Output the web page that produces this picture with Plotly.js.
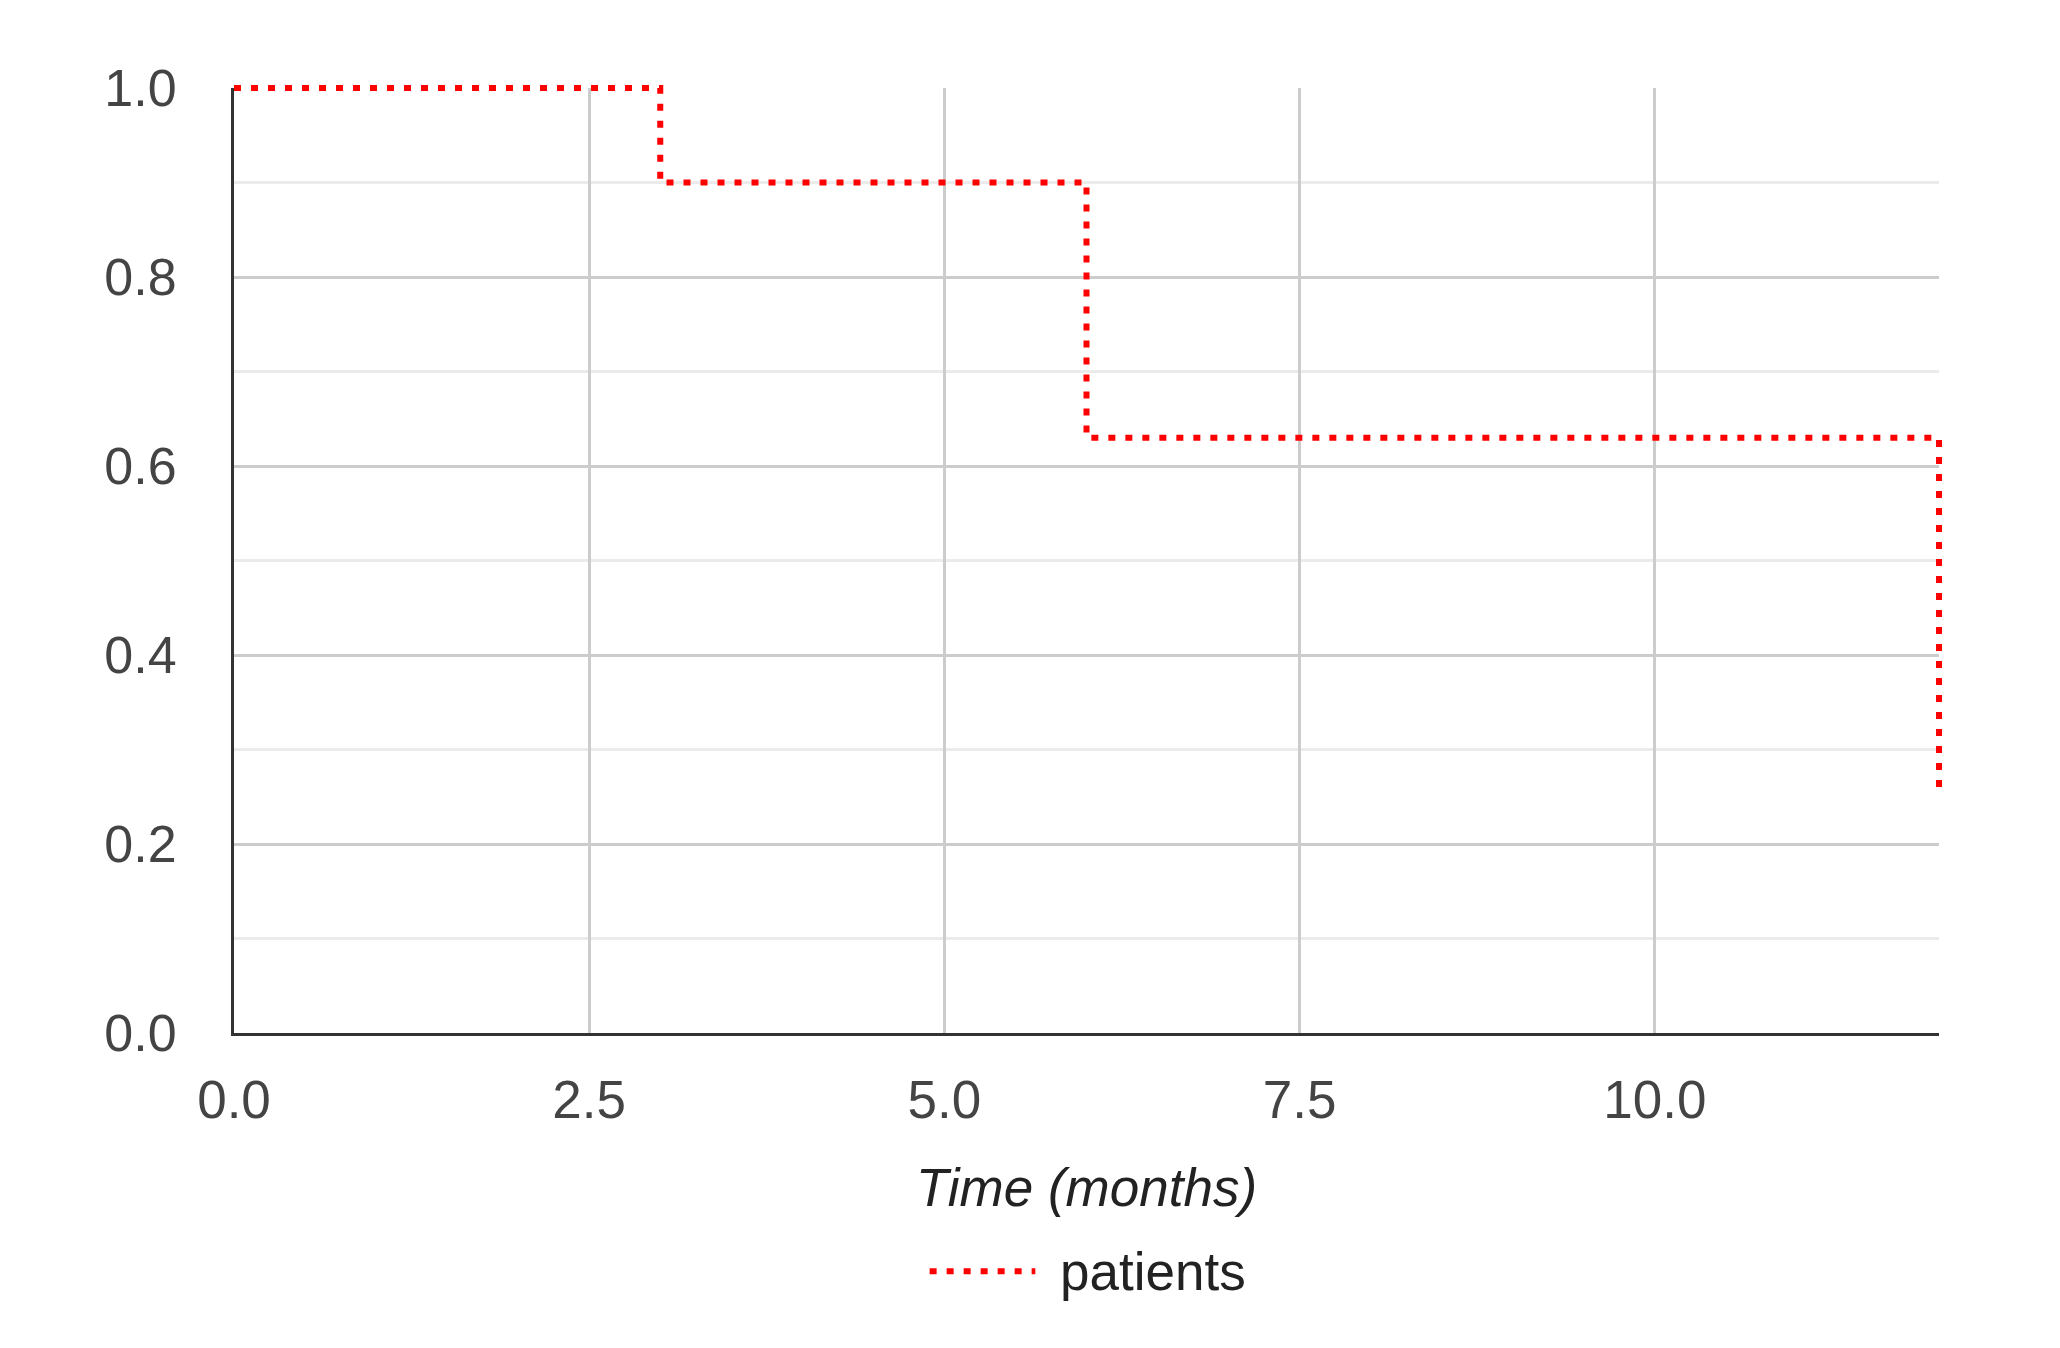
<!DOCTYPE html>
<html>
<head>
<meta charset="utf-8">
<script src="https://cdn.plot.ly/plotly-3.0.1.min.js"></script>
<style>html,body{margin:0;padding:0;background:#fff;}#chart{width:2060px;height:1348px;}</style>
</head>
<body>
<div id="chart"></div>
<script>
const seriesName = "patients";
const timeMonths = [0, 3, 6, 12];
const survival = [1.0, 0.9, 0.63, 0.252];
const xTickVals = [0, 2.5, 5, 7.5, 10];
const yTickVals = [0, 0.2, 0.4, 0.6, 0.8, 1.0];
const xTitle = "Time (months)";

const FONT = '"Liberation Sans", Arial, sans-serif';
const RED = '#ff0000';

const trace = {
  x: timeMonths,
  y: survival,
  type: 'scatter',
  mode: 'lines',
  name: seriesName,
  line: {shape: 'hv', color: RED, width: 6, dash: '7px,10px'},
  cliponaxis: false,
  showlegend: false,
  hoverinfo: 'skip'
};

const layout = {
  width: 2060,
  height: 1348,
  margin: {l: 234, r: 121, t: 88, b: 315, pad: 0},
  paper_bgcolor: '#ffffff',
  plot_bgcolor: '#ffffff',
  showlegend: false,
  font: {family: FONT, size: 52, color: '#444444'},
  xaxis: {
    range: [0, 12],
    tickvals: xTickVals,
    tickformat: '.1f',
    showgrid: true,
    gridcolor: '#cccccc',
    gridwidth: 3,
    zeroline: false,
    showline: true,
    linecolor: '#333333',
    linewidth: 3,
    ticks: '',
    ticklabelstandoff: 18,
    tickfont: {family: FONT, size: 53, color: '#444444'},
    title: {text: xTitle, font: {family: FONT, size: 53, color: '#222222', style: 'italic'}, standoff: 42},
    fixedrange: true
  },
  yaxis: {
    range: [0, 1],
    tickvals: yTickVals,
    tickformat: '.1f',
    showgrid: true,
    gridcolor: '#cccccc',
    gridwidth: 3,
    minor: {dtick: 0.1, showgrid: true, gridcolor: '#ebebeb', gridwidth: 3, ticks: ''},
    zeroline: false,
    showline: true,
    linecolor: '#333333',
    linewidth: 3,
    ticks: '',
    ticklabelstandoff: 44,
    tickfont: {family: FONT, size: 52, color: '#444444'},
    fixedrange: true
  },
  shapes: [
    {type: 'line', xref: 'paper', yref: 'paper', x0: 0.408, x1: 0.470, y0: -0.252, y1: -0.252,
     line: {color: RED, width: 6, dash: '7px,10px'}}
  ],
  annotations: [
    {xref: 'paper', yref: 'paper', x: 0.483, y: -0.252, xanchor: 'left', yanchor: 'middle',
     text: seriesName, showarrow: false, font: {family: FONT, size: 53, color: '#222222'}}
  ]
};

function unclipTraces() {
  document.querySelectorAll('#chart [clip-path]').forEach(function (el) {
    el.removeAttribute('clip-path');
  });
}

Plotly.newPlot('chart', [trace], layout, {displayModeBar: false, staticPlot: true}).then(function () {
  unclipTraces();
  setTimeout(unclipTraces, 0);
  setTimeout(unclipTraces, 50);
});
</script>
</body>
</html>
